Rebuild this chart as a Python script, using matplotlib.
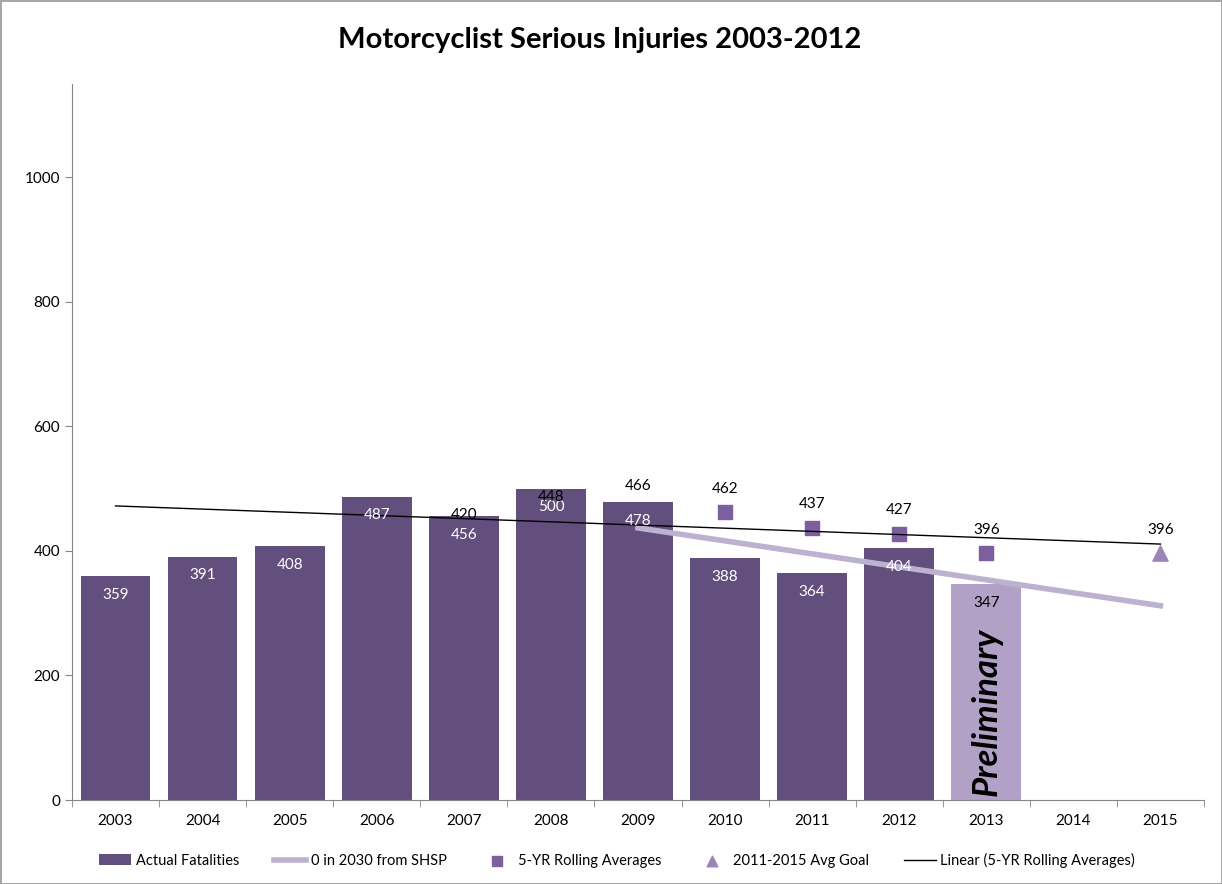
import numpy as np
import matplotlib.pyplot as plt

plt.rcParams['font.family'] = ['Lato', 'DejaVu Sans']

# data
years = ['2003', '2004', '2005', '2006', '2007', '2008', '2009',
         '2010', '2011', '2012', '2013', '2014', '2015']
bar_years = years[:11]
injuries = [359, 391, 408, 487, 456, 500, 478, 388, 364, 404, 347]

avg_years = ['2007', '2008', '2009', '2010', '2011', '2012', '2013']
rolling_avg = [420, 448, 466, 462, 437, 427, 396]

goal_year = '2015'
goal_value = 396

shsp_years = ['2009', '2015']
shsp_values = [437, 312]

x_pos = {y: i for i, y in enumerate(years)}

bar_color = '#634f7d'
prelim_color = '#b2a1c7'
square_color = '#7d5f9f'
tri_color = '#9b85b8'
shsp_color = '#bcb2d0'

fig = plt.figure(figsize=(12.22, 8.84), dpi=100)
fig.patch.set_edgecolor('#a6a6a6')
fig.patch.set_linewidth(2)
ax = fig.add_axes([72 / 1222, 84 / 884, 1132 / 1222, 716 / 884])

# 5 yr rolling averages (behind bars)
ax.scatter([x_pos[y] for y in avg_years], rolling_avg, marker='s', s=100,
           color=square_color, zorder=1, label='5-YR Rolling Averages')

# bars
bx = [x_pos[y] for y in bar_years]
colors = [bar_color] * 10 + [prelim_color]
bars = ax.bar(bx, injuries, width=0.8, color=colors, zorder=2)
bars[0].set_label('Actual Fatalities')

for i, v in enumerate(injuries):
    c = 'black' if i == 10 else 'white'
    ax.text(bx[i], v - 30, str(v), ha='center', va='center', color=c,
            fontsize=11, zorder=5)

ax.text(x_pos['2013'], 142, 'Preliminary', rotation=90, ha='center',
        va='center', fontsize=25, fontweight='bold', fontstyle='italic',
        zorder=5)

# shsp line
ax.plot([x_pos[y] for y in shsp_years], shsp_values, color=shsp_color,
        lw=4, zorder=3, label='0 in 2030 from SHSP')

# goal
ax.scatter([x_pos[goal_year]], [goal_value], marker='^', s=120,
           color=tri_color, zorder=4, label='2011-2015 Avg Goal')

# linear trend of rolling averages
ax_x = np.array([x_pos[y] for y in avg_years])
m, b = np.polyfit(ax_x, rolling_avg, 1)
tx = np.array([0, len(years) - 1])
ax.plot(tx, m * tx + b, color='black', lw=1, zorder=4,
        label='Linear (5-YR Rolling Averages)')

# labels above markers
for y, v in zip(avg_years, rolling_avg):
    ax.text(x_pos[y], v + 38, str(v), ha='center', va='center', fontsize=11,
            zorder=6)
ax.text(x_pos[goal_year], goal_value + 38, str(goal_value), ha='center',
        va='center', fontsize=11, zorder=6)

ax.set_xlim(-0.5, len(years) - 0.5)
ax.set_ylim(0, 1150)
ax.set_yticks([0, 200, 400, 600, 800, 1000])
ax.set_xticks(range(len(years)))
ax.set_xticklabels(years)
ax.set_xticks(np.arange(-0.5, len(years), 1), minor=True)
ax.tick_params(axis='x', which='major', length=0, labelsize=11, pad=10)
ax.tick_params(axis='x', which='minor', length=5, color='#868686')
ax.tick_params(axis='y', length=5, color='#868686', labelsize=11)
for s in ['top', 'right']:
    ax.spines[s].set_visible(False)
for s in ['left', 'bottom']:
    ax.spines[s].set_color('#868686')

fig.text(0.491, 0.955, 'Motorcyclist Serious Injuries 2003-2012', ha='center',
         va='center', fontsize=21, fontweight='bold')

handles, labels = ax.get_legend_handles_labels()
order = ['Actual Fatalities', '0 in 2030 from SHSP', '5-YR Rolling Averages',
         '2011-2015 Avg Goal', 'Linear (5-YR Rolling Averages)']
hmap = dict(zip(labels, handles))
leg = fig.legend([hmap[l] for l in order], order, loc='center', ncol=5,
                 bbox_to_anchor=(0.505, 0.027), frameon=False, fontsize=10.5,
                 handlelength=2.2, columnspacing=2.4, handletextpad=0.3,
                 markerscale=0.7)

fig.savefig('out.png', dpi=100)
